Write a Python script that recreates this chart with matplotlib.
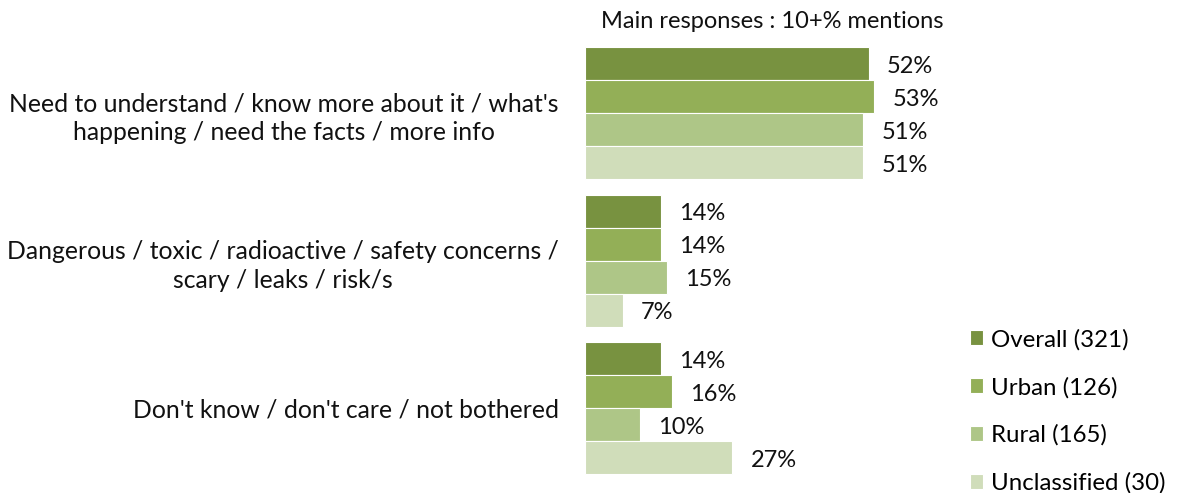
import numpy as np
import matplotlib.pyplot as plt

plt.rcParams['font.family'] = ['Lato', 'DejaVu Sans']

categories = [
    "Need to understand / know more about it / what's\nhappening / need the facts / more info",
    "Dangerous / toxic / radioactive / safety concerns /\nscary / leaks / risk/s",
    "Don't know / don't care / not bothered",
]
series = ["Overall (321)", "Urban (126)", "Rural (165)", "Unclassified (30)"]
overall = [52, 14, 14]
urban = [53, 14, 16]
rural = [51, 15, 10]
unclassified = [51, 7, 27]
colors = ["#789240", "#93AF57", "#AEC687", "#D0DDBA"]

values = [overall, urban, rural, unclassified]

W, H = 1178, 493
fig = plt.figure(figsize=(W / 100, H / 100), dpi=100)
# axes placed in pixel terms: bars start at x=585
ax = fig.add_axes([585 / W, 1 - 490 / H, 365 / W, 460 / H])

y = np.arange(len(categories))
h = 0.2237
for k, (name, vals, c) in enumerate(zip(series, values, colors)):
    pos = y + (k - 1.5) * h
    bars = ax.barh(pos, vals, height=h, color=c, edgecolor='white',
                   linewidth=0.8, label=name)
    for b, v in zip(bars, vals):
        ax.text(b.get_width() + 3.3, b.get_y() + b.get_height() / 2 + 0.015,
                f"{v}%", va='center', ha='left', fontsize=17, color='#111111')

ax.set_xlim(0, 365 / 5.46)
ax.set_ylim(2.553, -0.566)
ax.set_yticks(y)
ax.set_yticklabels(categories, fontsize=17.8, multialignment='center',
                   color='#111111', linespacing=1.3)
ax.tick_params(axis='y', length=0, pad=19)
ax.set_xticks([])
for s in ax.spines.values():
    s.set_visible(False)

fig.text(772 / W, 1 - 21 / H, "Main responses : 10+% mentions",
         ha='center', va='center', fontsize=17, color='#111111')

fig.legend(loc='upper left', bbox_to_anchor=(948 / W, 1 - 307 / H),
           frameon=False, fontsize=17.3, labelspacing=1.1,
           handlelength=0.55, handleheight=0.55, handletextpad=0.35)

fig.savefig('out.png', dpi=100)
